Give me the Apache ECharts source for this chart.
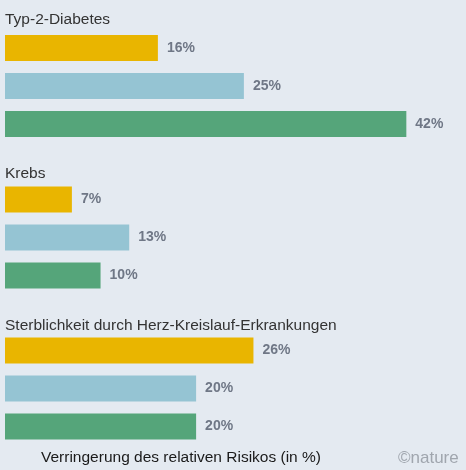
<!DOCTYPE html>
<html><head><meta charset="utf-8">
<script src="https://cdn.jsdelivr.net/npm/echarts@6/dist/echarts.min.js"></script>
<style>html,body{margin:0;padding:0;background:#e4eaf1;}#c{width:466px;height:470px;}</style>
</head><body><div id="c"></div>
<script>
const groups = ["Typ-2-Diabetes", "Krebs", "Sterblichkeit durch Herz-Kreislauf-Erkrankungen"];
const rows = ["a", "b", "c"];
const diabetesValues = [16, 25, 42];
const krebsValues = [7, 13, 10];
const herzValues = [26, 20, 20];
const barColors = ["#e9b500", "#95c4d3", "#55a57a"];
const axisTitle = "Verringerung des relativen Risikos (in %)";
const credit = "©nature";

const groupValues = [diabetesValues, krebsValues, herzValues];
const tops = [29, 180.5, 331.5];
const titleTops = [7, 161, 313];
const chart = echarts.init(document.getElementById('c'), null, {renderer: 'canvas'});
const grids = [], xAxes = [], yAxes = [], series = [], titles = [];
groupValues.forEach((vals, i) => {
  grids.push({left: 5, width: 430, top: tops[i], height: 114, containLabel: false});
  xAxes.push({gridIndex: i, type: 'value', min: 0, max: 45, show: false});
  yAxes.push({gridIndex: i, type: 'category', data: rows, inverse: true, show: false});
  series.push({
    type: 'bar', xAxisIndex: i, yAxisIndex: i, barWidth: 26,
    data: vals.map((v, j) => ({value: v, itemStyle: {color: barColors[j]}})),
    label: {show: true, position: 'right', distance: 9, formatter: '{c}%',
      fontFamily: 'Liberation Sans, sans-serif', fontWeight: 'bold', fontSize: 14, color: '#6f7786'},
    silent: true, animation: false
  });
  titles.push({text: groups[i], left: 0, top: titleTops[i],
    textStyle: {fontFamily: 'Liberation Sans, sans-serif', fontWeight: 'normal', fontSize: 15.5, color: '#333'}});
});
titles.push({text: axisTitle, left: 36, top: 445,
  textStyle: {fontFamily: 'Liberation Sans, sans-serif', fontWeight: 'normal', fontSize: 15.5, color: '#1a1a1a'}});
titles.push({text: credit, left: 393, top: 445,
  textStyle: {fontFamily: 'Liberation Sans, sans-serif', fontWeight: 'normal', fontSize: 17, color: '#a0a6ae'}});
chart.setOption({
  backgroundColor: '#e4eaf1',
  animation: false,
  title: titles,
  grid: grids, xAxis: xAxes, yAxis: yAxes, series: series
});
</script></body></html>
